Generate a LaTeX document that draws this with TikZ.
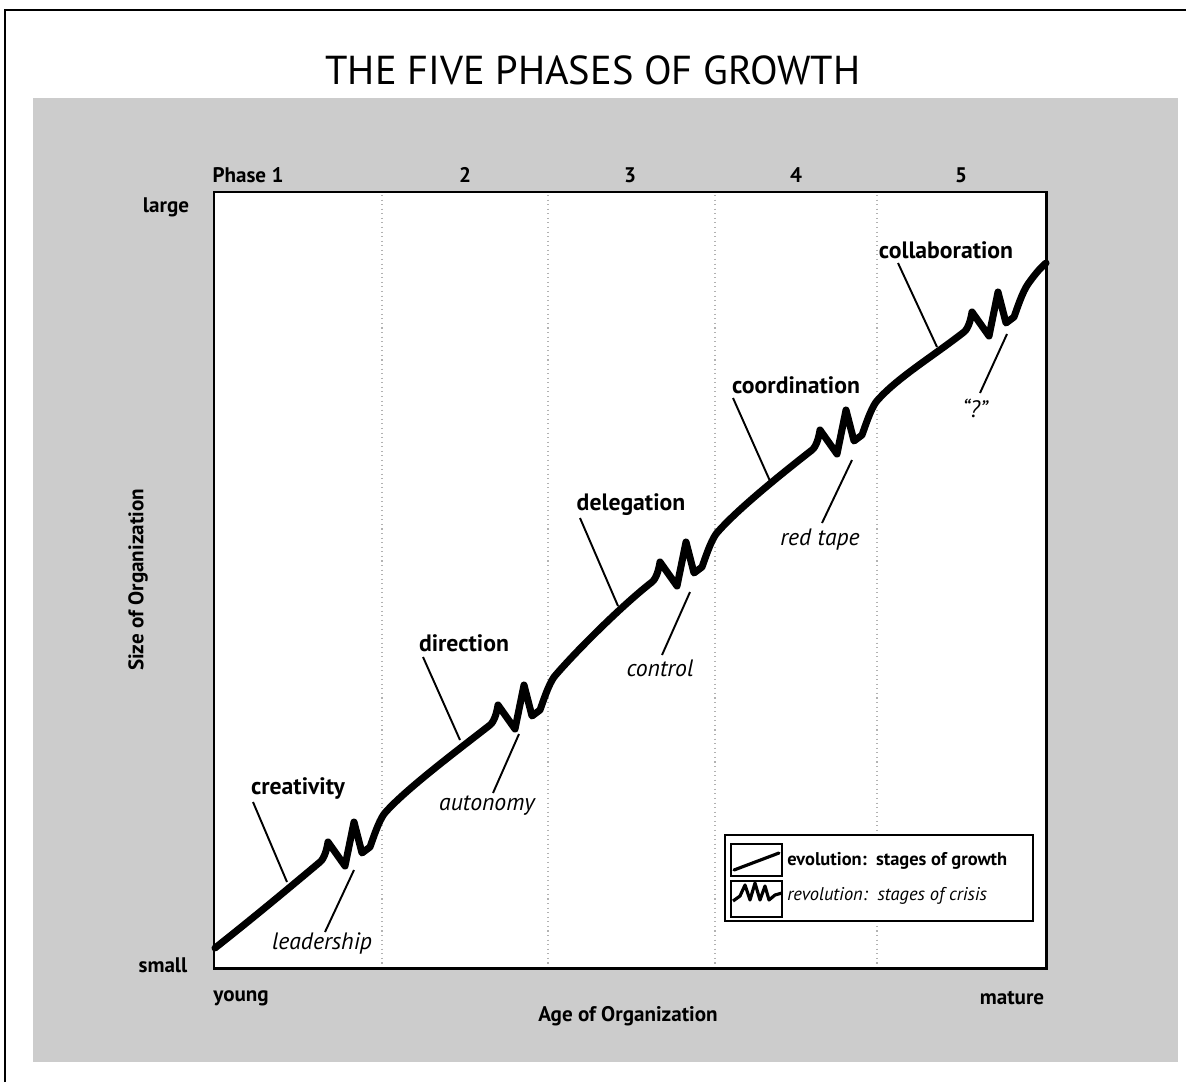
\documentclass[tikz,border=0pt]{standalone}
\usepackage{fontspec}
\setmainfont{PT Sans}
\begin{document}
\begin{tikzpicture}[x=0.02cm,y=-0.02cm,
  boldlab/.style={font=\fontsize{13.5}{16}\selectfont\bfseries, inner sep=0pt},
  itallab/.style={font=\fontsize{13.5}{16}\selectfont\itshape, inner sep=0pt},
  axislab/.style={font=\fontsize{12}{14}\selectfont\bfseries, inner sep=0pt},
  legendtxt/.style={font=\fontsize{10.5}{12}\selectfont, inner sep=0pt, anchor=west},
  leader/.style={line width=1.1pt},
  growth/.style={line width=4pt, line join=round, line cap=round},
  phaseline/.style={gray!60, dotted, line width=0.6pt},
]
\useasboundingbox (0,0) rectangle (1186,1082);
% frame
\draw[line width=1.2pt] (5,1082) -- (5,10) -- (1186,10);
% title
\node[font=\fontsize{23}{26}\selectfont, inner sep=0pt] (title) at (593,70) {THE FIVE PHASES OF GROWTH};
% halftone background
\fill[black!20] (33,98) rectangle (1178,1062);
% plot area
\draw[fill=white, line width=1.7pt] (214,192) rectangle (1046,968);
\foreach \x in {382,548,715,877} \draw[phaseline] (\x,195) -- (\x,965);
% axis texts
\node[axislab] (ph1) at (248,175) {Phase 1};
\node[axislab] (ph2) at (465,175) {2};
\node[axislab] (ph3) at (630,175) {3};
\node[axislab] (ph4) at (796,175) {4};
\node[axislab] (ph5) at (961,175) {5};
\node[axislab] (large) at (166,207) {large};
\node[axislab] (small) at (163,965) {small};
\node[axislab] (young) at (241,998) {young};
\node[axislab] (mature) at (1012,998) {mature};
\node[axislab] (age) at (628,1016) {Age of Organization};
\node[axislab, rotate=90] (size) at (138,580) {Size of Organization};
% growth curve
\draw[growth] (215,948) .. controls (250.5,920) and (285.5,891) .. (320,862)
  .. controls (324.7,858.3) and (327,848) .. (328,842) -- (345,866) -- (354,822) -- (362,853) -- (370,847)
  .. controls (373.4,837.6) and (378.3,822.2) .. (384,814)
  .. controls (403.3,791) and (458.5,749.6) .. (490,725)
  .. controls (494.7,721.3) and (497,711) .. (498,705) -- (515,729) -- (524,685) -- (532,716) -- (540,710)
  .. controls (543.4,700.6) and (548.3,685.2) .. (554,677)
  .. controls (573.3,654) and (620.5,606.6) .. (652,582)
  .. controls (656.7,578.3) and (659,568) .. (660,562) -- (677,586) -- (686,542) -- (694,573) -- (702,567)
  .. controls (705.4,557.6) and (710.3,542.2) .. (716,534)
  .. controls (735.3,511) and (780.5,474.6) .. (812,450)
  .. controls (816.7,446.3) and (819,436) .. (820,430) -- (837,454) -- (846,410) -- (854,441) -- (862,435)
  .. controls (865.4,425.6) and (870.3,410.2) .. (876,402)
  .. controls (895.3,379) and (932.5,356.6) .. (964,332)
  .. controls (968.7,328.3) and (971,318) .. (972,312) -- (989,336) -- (998,292) -- (1006,323) -- (1014,317)
  .. controls (1017.4,307.6) and (1022.3,292.2) .. (1028,284)
  .. controls (1033,277) and (1039,269) .. (1046,263);
% labels
\node[boldlab] (creativity) at (298,788) {creativity};
\node[itallab] (leadership) at (322,943) {leadership};
\node[boldlab] (direction) at (464,643) {direction};
\node[itallab] (autonomy) at (487,806) {autonomy};
\node[boldlab] (delegation) at (631,505) {delegation};
\node[itallab] (control) at (660,668) {control};
\node[boldlab] (coordination) at (796,385) {coordination};
\node[itallab] (redtape) at (820,540) {red tape};
\node[boldlab] (collaboration) at (946,250) {collaboration};
\node[itallab] (quest) at (975,408) {“?”};
% leader line ends
\coordinate (cr1) at (253,802); \coordinate (cr2) at (287,882);
\coordinate (le1) at (354,870); \coordinate (le2) at (325,932);
\coordinate (di1) at (423,657); \coordinate (di2) at (460,740);
\coordinate (au1) at (519,734); \coordinate (au2) at (493,793);
\coordinate (de1) at (580,518); \coordinate (de2) at (618,606);
\coordinate (co1) at (690,592); \coordinate (co2) at (662,655);
\coordinate (cd1) at (733,398); \coordinate (cd2) at (770,481);
\coordinate (rt1) at (852,460); \coordinate (rt2) at (822,523);
\coordinate (cl1) at (898,263); \coordinate (cl2) at (937,347);
\coordinate (qu1) at (1007,334); \coordinate (qu2) at (980,393);
\foreach \a/\b in {cr1/cr2,le1/le2,di1/di2,au1/au2,de1/de2,co1/co2,cd1/cd2,rt1/rt2,cl1/cl2,qu1/qu2}
  \draw[leader] (\a) -- (\b);
% legend
\draw[fill=white, line width=1.1pt] (725,835) rectangle (1033,921);
\draw[line width=0.9pt] (731,844) rectangle (782,876);
\draw[line width=0.9pt] (731,881) rectangle (782,917);
\coordinate (ev1) at (734,870); \coordinate (ev2) at (779,853);
\draw[line width=1.8pt, line cap=round] (ev1) -- (ev2);
\draw[line width=1.8pt, line join=round] (733,901) -- (740,896) -- (745,885) -- (750,900) -- (755,883) -- (760,900) -- (765,886) -- (769,900) -- (775,895) -- (782,893);
\node[legendtxt, font=\fontsize{10.5}{12}\selectfont\bfseries] (evo) at (787,861) {evolution:\ \ stages of growth};
\node[legendtxt, font=\fontsize{10.5}{12}\selectfont\itshape] (rev) at (787,896) {revolution:\ \ stages of crisis};
\end{tikzpicture}
\end{document}
